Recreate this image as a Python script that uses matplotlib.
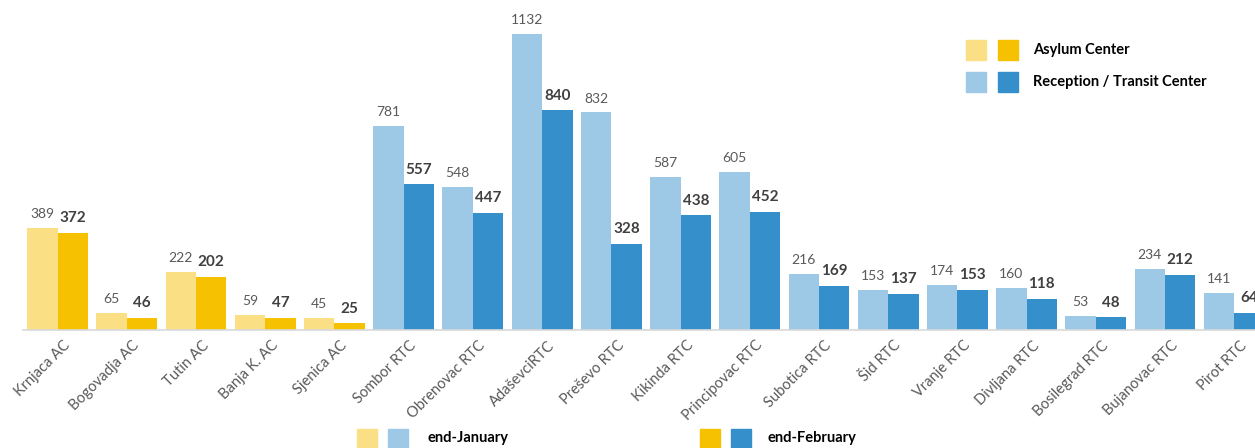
import numpy as np
import matplotlib.pyplot as plt
from matplotlib.patches import Rectangle

plt.rcParams['font.family'] = ['Lato', 'DejaVu Sans']

# data
centers = ["Krnjaca AC", "Bogovadja AC", "Tutin AC", "Banja K. AC", "Sjenica AC",
           "Sombor RTC", "Obrenovac RTC", "AdaševciRTC", "Preševo RTC", "Kikinda RTC",
           "Principovac RTC", "Subotica RTC", "Šid RTC", "Vranje RTC", "Divljana RTC",
           "Bosilegrad RTC", "Bujanovac RTC", "Pirot RTC"]
end_january = [389, 65, 222, 59, 45, 781, 548, 1132, 832, 587, 605, 216, 153, 174, 160, 53, 234, 141]
end_february = [372, 46, 202, 47, 25, 557, 447, 840, 328, 438, 452, 169, 137, 153, 118, 48, 212, 64]
is_asylum = [True] * 5 + [False] * 13

LIGHT_YEL = '#FBDF85'
DARK_YEL = '#F5C100'
LIGHT_BLUE = '#9DC8E6'
DARK_BLUE = '#358FCB'

fig = plt.figure(figsize=(12.55, 4.48), dpi=100)
ax = fig.add_axes([23 / 1255, 118 / 448, 1 - 23 / 1255, 330 / 448])

x = np.arange(len(centers))
w = 0.44
light = [LIGHT_YEL if a else LIGHT_BLUE for a in is_asylum]
dark = [DARK_YEL if a else DARK_BLUE for a in is_asylum]
ax.bar(x - w / 2, end_january, w, color=light)
ax.bar(x + w / 2, end_february, w, color=dark)

for i in range(len(centers)):
    ax.text(x[i] - w / 2, end_january[i] + 30, str(end_january[i]), ha='center', va='bottom',
            fontsize=10, color='#595959')
    ax.text(x[i] + w / 2, end_february[i] + 30, str(end_february[i]), ha='center', va='bottom',
            fontsize=11, color='#404040', fontweight='bold')

ax.set_xlim(-0.5, 17.3)
ax.set_ylim(0, 1262)
ax.set_yticks([])
for s in ['top', 'right', 'left']:
    ax.spines[s].set_visible(False)
ax.spines['bottom'].set_color('#D9D9D9')
ax.spines['bottom'].set_linewidth(1.2)
ax.set_xticks(x + 0.08)
ax.set_xticklabels(centers, fontsize=10.5, color='#595959')
ax.tick_params(axis='x', length=0, pad=6)
for lbl in ax.get_xticklabels():
    lbl.set_rotation(45)
    lbl.set_ha('right')
    lbl.set_rotation_mode('anchor')

# legend top right
def square(px, py, color):
    fig.patches.append(Rectangle((px / 1255, 1 - (py + 20) / 448), 20 / 1255, 20 / 448,
                                 transform=fig.transFigure, color=color))

square(966, 40, LIGHT_YEL)
square(998, 40, DARK_YEL)
square(966, 72, LIGHT_BLUE)
square(998, 72, DARK_BLUE)
fig.text(1033 / 1255, 1 - 50 / 448, 'Asylum Center', fontsize=10.5, fontweight='bold', va='center')
fig.text(1033 / 1255, 1 - 82 / 448, 'Reception / Transit Center', fontsize=10.5, fontweight='bold', va='center')

# legend bottom
square(357, 429, LIGHT_YEL)
square(388, 429, LIGHT_BLUE)
square(700, 429, DARK_YEL)
square(731, 429, DARK_BLUE)
fig.text(428 / 1255, 1 - 438 / 448, 'end-January', fontsize=10.5, fontweight='bold', va='center')
fig.text(768 / 1255, 1 - 438 / 448, 'end-February', fontsize=10.5, fontweight='bold', va='center')

fig.savefig('out.png', dpi=100)
